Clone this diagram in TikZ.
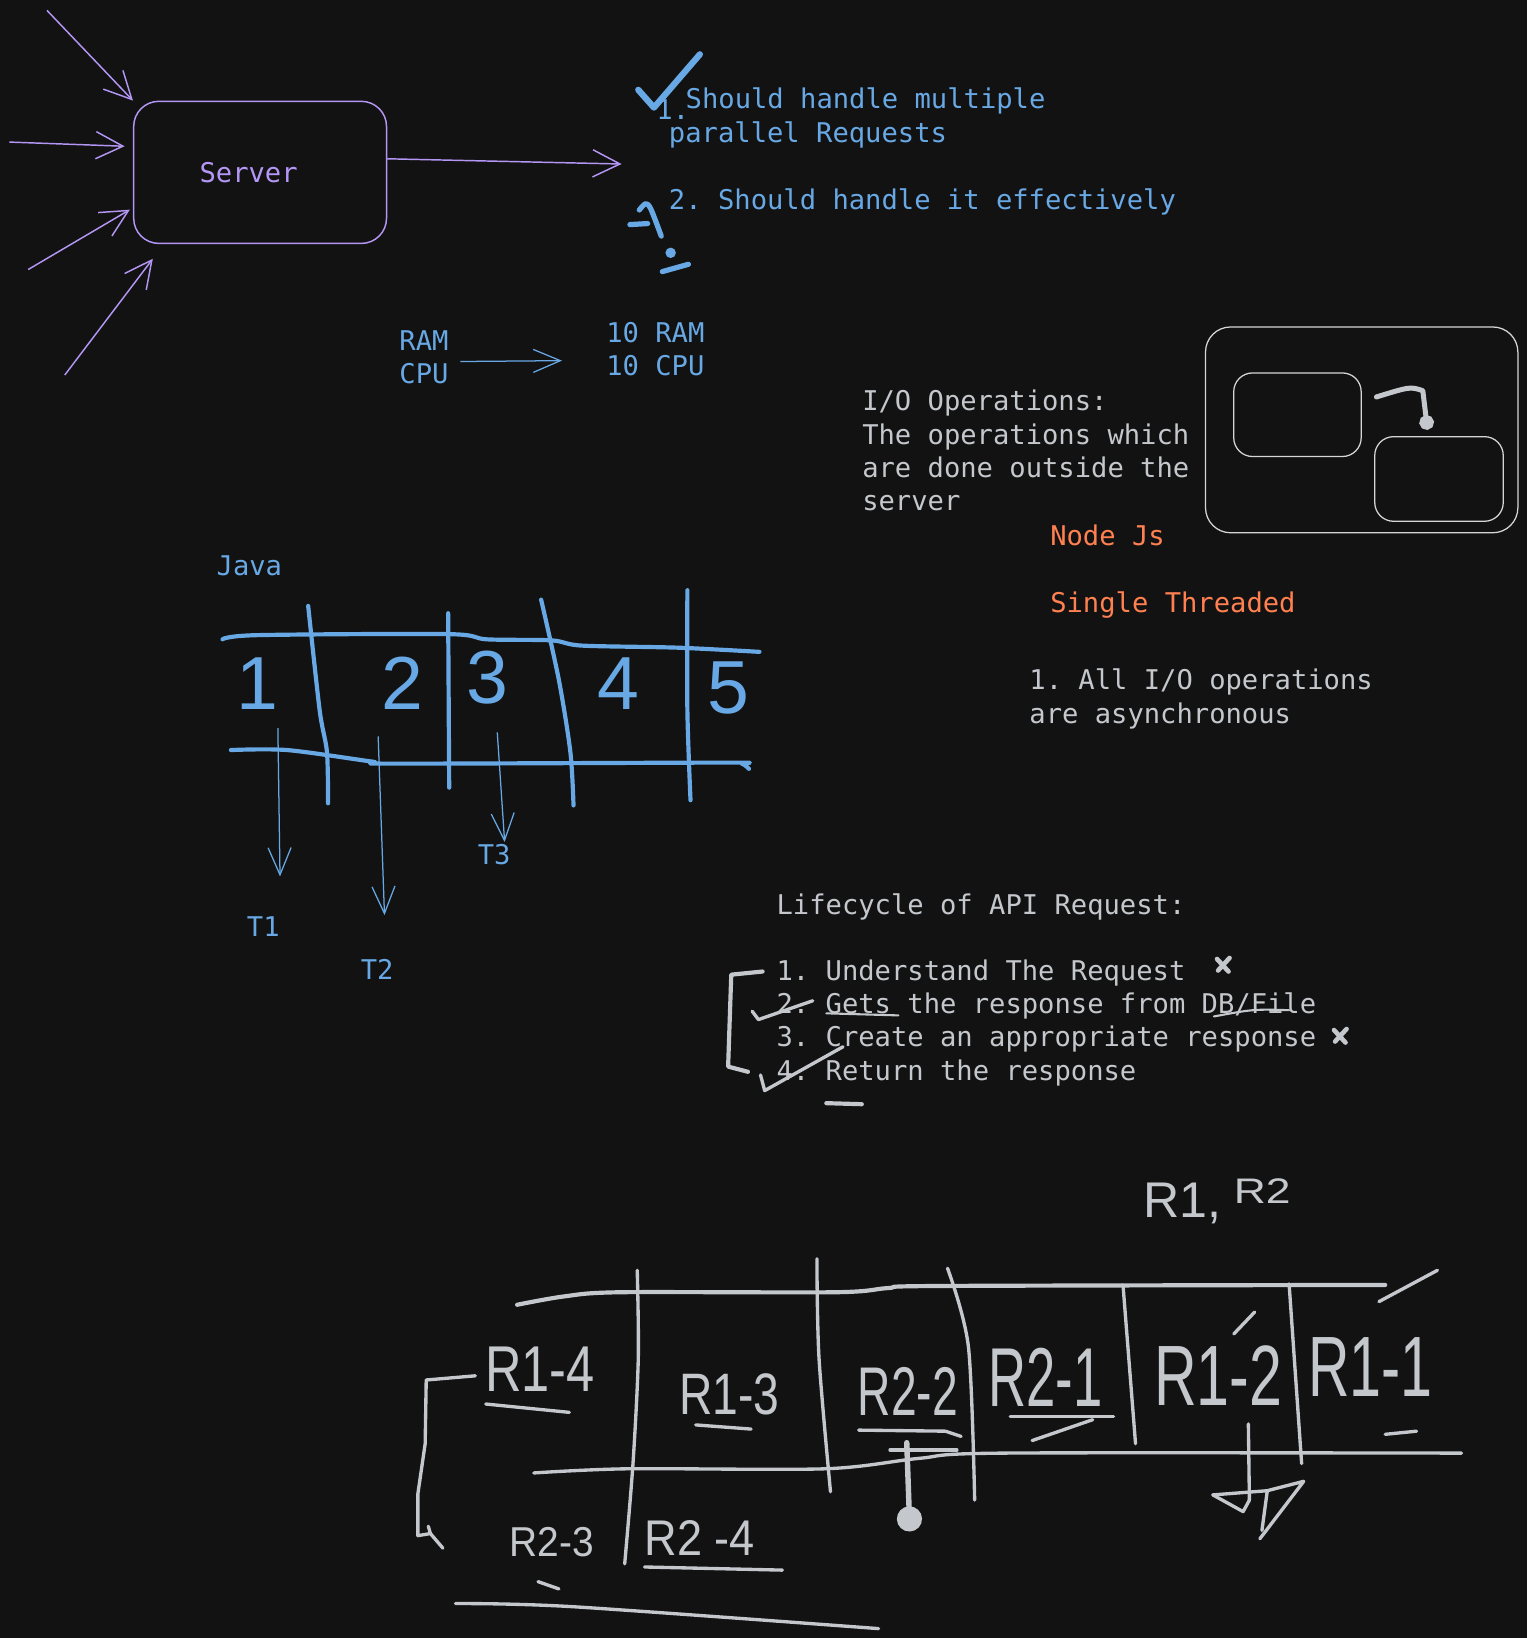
\documentclass[tikz,border=0pt]{standalone}
\usepackage{fontspec}
\setmonofont{DejaVu Sans Mono}
\setsansfont{Liberation Sans}
\usetikzlibrary{arrows.meta}

\definecolor{inkbg}{RGB}{18,18,18}
\definecolor{inkblue}{RGB}{104,168,228}
\definecolor{inkviolet}{RGB}{180,150,245}
\definecolor{inkorange}{RGB}{255,128,80}
\definecolor{inkgray}{RGB}{196,200,204}
\definecolor{inkwhite}{RGB}{214,214,214}

\begin{document}
\begin{tikzpicture}[x=0.5pt, y=-0.5pt,
    txt/.style = {font=\ttfamily\fontsize{13}{16}\selectfont, inner sep=0pt, align=left, anchor=north west},
    srvbox/.style = {draw=inkviolet, line width=0.7pt, rounded corners=12pt, minimum width=121pt, minimum height=68pt, text=inkviolet, font=\ttfamily\fontsize{13}{16}\selectfont},
    iobox/.style = {draw=inkwhite, line width=0.6pt, rounded corners=9pt},
    req/.style = {draw=inkviolet, line width=0.7pt, -{Straight Barb[length=13pt, width=13pt]}},
    thread/.style = {draw=inkblue, line width=0.6pt, -{Straight Barb[length=13pt, width=11pt]}},
    bluepen/.style = {draw=inkblue, line width=2pt, line cap=round, line join=round},
    graypen/.style = {draw=inkgray, line width=1.6pt, line cap=round, line join=round},
    digit/.style = {font=\sffamily\fontsize{36}{36}\selectfont, text=inkblue, inner sep=0pt},
    hand/.style = {text=inkgray, inner sep=0pt}]

    \useasboundingbox (0,0) rectangle (1462,1568);
    \fill[inkbg] (0,0) rectangle (1462,1568);

    % Serveur
    \node[srvbox] (server) at (249,165) {Server\hspace*{11pt}};
    \coordinate (in1) at (45,10);
    \coordinate (in2) at (9,136);
    \coordinate (in3) at (27,258);
    \coordinate (in4) at (62,359);
    \coordinate (out) at (595,157);
    \draw[req] (in1) -- (server.north west);
    \draw[req] (in2) -- ([shift={(-8,-25)}]server.west);
    \draw[req] (in3) -- ([shift={(-3,-33)}]server.south west);
    \draw[req] (in4) -- ([shift={(19,14)}]server.south west);
    \draw[req] ([yshift=6.5pt]server.east) -- (out);

    % Textes
    \node[txt, text=inkblue] (req1) at (640,84) {\makebox[8pt][l]{\kern-6pt\smash{\raisebox{-5pt}{1.}}}Should handle multiple\\parallel Requests};
    \node[txt, text=inkblue] (req2) at (640,180) {2. Should handle it effectively};
    \node[txt, text=inkblue] (ram) at (382,316) {RAM\\CPU};
    \node[txt, text=inkblue] (tenres) at (580,308) {10 RAM\\10 CPU};
    \node[txt, text=inkgray] (io) at (825,373) {I/O Operations:\\The operations which\\are done outside the\\server};
    \node[txt, text=inkorange] (nodejs) at (1005,502) {Node Js};
    \node[txt, text=inkorange] (single) at (1005,566) {Single Threaded};
    \node[txt, text=inkgray] (async) at (985,640) {1. All I/O operations\\are asynchronous};
    \node[txt, text=inkgray] (life) at (743,855) {Lifecycle of API Request:};
    \node[txt, text=inkgray] (steps) at (743,918) {1. Understand The Request\\2. Gets the response from DB/File\\3. Create an appropriate response\\4. Return the response};
    \draw[thread] ([shift={(11,4)}]ram.east) -- ([shift={(-42,11)}]tenres.west);

    % Coches
    \draw[bluepen, line width=3pt] (611,86) -- (626,103) -- (670,52);
    \draw[bluepen, line width=2.5pt] (603,215) -- (620,214);
    \draw[bluepen, line width=2.5pt] plot[smooth] coordinates {(612,201) (618,195) (623,200) (633,226)};
    \fill[inkblue] (642,242) circle (2.5pt);
    \draw[bluepen, line width=2.5pt] (634,260) -- (659,253);

    % I/O
    \node[iobox, minimum width=149.5pt, minimum height=98.5pt, rounded corners=12pt] (ioframe) at (1303.5,411.5) {};
    \node[iobox, minimum width=61pt, minimum height=40pt] (iobox1) at (1242,397) {};
    \node[iobox, minimum width=61.5pt, minimum height=40.5pt] (iobox2) at (1377.5,458.5) {};
    \draw[graypen, line width=2.4pt, -{Circle[length=7pt]}] ([shift={(14,-17)}]iobox1.east) .. controls (1350,370) .. (1362,374) -- ([shift={(-11,-6)}]iobox2.north);

    % Java
    \node[txt, text=inkblue] (java) at (207,532) {Java};
    \draw[bluepen] plot[smooth] coordinates {(213,612) (246,608) (429,607) (466,612) (528,613) (557,618) (649,620) (727,624)};
    \draw[bluepen] plot[smooth] coordinates {(221,718) (275,718) (356,729) (378,731) (693,730) (710,731) (717,736)};
    \draw[bluepen] plot[smooth] coordinates {(295,580) (306,680) (313,720) (314,769)};
    \draw[bluepen] (429,587) -- (430,754);
    \draw[bluepen] plot[smooth] coordinates {(518,574) (535,651) (546,720) (549,771)};
    \draw[bluepen] plot[smooth] coordinates {(658,565) (658,680) (661,766)};
    \node[digit] (d1) at (246,654) {1};
    \node[digit] (d2) at (385,654) {2};
    \node[digit] (d3) at (467,649) {3};
    \node[digit] (d4) at (592,654) {4};
    \node[digit] (d5) at (697,659) {5};
    \node[txt, text=inkblue] (t1) at (236,877) {T1};
    \node[txt, text=inkblue] (t2) at (345,918) {T2};
    \node[txt, text=inkblue] (t3) at (457,808) {T3};
    \coordinate (th1) at (266,697);
    \coordinate (th2) at (362,705);
    \coordinate (th3) at (476,701);
    \draw[thread] (th1) -- ([shift={(16,-38)}]t1.north);
    \draw[thread] (th2) -- ([shift={(7,-42)}]t2.north);
    \draw[thread] (th3) -- ([shift={(10,-2)}]t3.north);

    % Cycle de vie
    \draw[graypen, line width=2pt] (730,930) -- (700,933) -- (697,1021) -- (716,1026);
    \draw[graypen] (720,968) -- (726,976) -- (778,958);
    \draw[graypen, line width=1pt] (791,970) -- (860,972);
    \draw[graypen, line width=1pt] (1162,973) .. controls (1200,966) .. (1234,967);
    \draw[graypen] (728,1029) -- (732,1044) -- (807,1002);
    \draw[graypen, line width=2pt] (791,1056) -- (825,1057);
    \draw[graypen, line width=2.2pt] (1165,918) -- (1176,930) (1177,917) -- (1166,929);
    \draw[graypen, line width=2.2pt] (1277,986) -- (1288,998) (1289,985) -- (1278,997);

    % Requetes
    \node[hand, font=\sffamily\fontsize{24}{24}\selectfont, anchor=base west] (rr) at (1094,1165) {R1,\hspace{6pt}\raisebox{6.5pt}{\fontsize{17}{17}\selectfont\scalebox{1.25}[1]{R2}}};
    \draw[graypen, line width=2pt] plot[smooth] coordinates {(495,1249) (540,1241) (594,1237) (800,1237) (850,1233) (900,1231) (1326,1230)};
    \draw[graypen] (1320,1246) -- (1376,1216);
    \draw[graypen] plot[smooth] coordinates {(511,1410) (601,1406) (790,1406) (880,1396) (960,1391) (1399,1391)};
    \draw[graypen] plot[smooth] coordinates {(610,1216) (611,1300) (606,1400) (598,1497)};
    \draw[graypen] plot[smooth] coordinates {(782,1205) (784,1300) (795,1428)};
    \draw[graypen] plot[smooth] coordinates {(907,1214) (927,1289) (933,1436)};
    \draw[graypen] (1075,1230) -- (1087,1382);
    \draw[graypen] (1234,1229) -- (1246,1401);
    \node[hand, font=\sffamily\fontsize{31}{31}\selectfont] (r14) at (517,1311) {\scalebox{0.78}[1]{R1-4}};
    \node[hand, font=\sffamily\fontsize{28}{28}\selectfont] (r13) at (698,1335) {\scalebox{0.79}[1]{R1-3}};
    \node[hand, font=\sffamily\fontsize{33}{33}\selectfont] (r22) at (869,1332) {\scalebox{0.67}[1]{R2-2}};
    \node[hand, font=\sffamily\fontsize{40}{40}\selectfont] (r21) at (1001,1318) {\scalebox{0.63}[1]{R2-1}};
    \node[hand, font=\sffamily\fontsize{41}{41}\selectfont] (r12) at (1166,1317) {\scalebox{0.69}[1]{R1-2}};
    \node[hand, font=\sffamily\fontsize{41}{41}\selectfont] (r11) at (1312,1309) {\scalebox{0.67}[1]{R1-1}};
    \node[hand, font=\sffamily\fontsize{20}{20}\selectfont] (r23) at (528,1476) {\scalebox{0.93}[1]{R2-3}};
    \node[hand, font=\sffamily\fontsize{24}{24}\selectfont] (r24) at (670,1472) {\scalebox{0.9}[1]{R2 -4}};
    \draw[graypen] (465,1344) -- (545,1352);
    \draw[graypen] (666,1364) -- (719,1368);
    \draw[graypen] (822,1369) -- (905,1370) -- (920,1375);
    \draw[graypen] (852,1388) -- (916,1388);
    \draw[graypen, line width=2.6pt, -{Circle[length=12pt]}] (868,1381) -- (871,1466);
    \draw[graypen] (967,1356) -- (1066,1356);
    \draw[graypen] (988,1379) -- (1046,1359);
    \draw[graypen] (1181,1277) -- (1201,1256);
    \draw[graypen] (1326,1373) -- (1356,1370);
    \draw[graypen] (1195,1363) -- (1196,1436);
    \draw[graypen] (1161,1431) -- (1213,1427) -- (1248,1418) -- (1206,1473);
    \draw[graypen] (1161,1431) -- (1190,1447) -- (1196,1436);
    \draw[graypen] (1213,1428) -- (1208,1465);
    \draw[graypen] (455,1317) -- (408,1321) -- (407,1382) -- (400,1430) -- (400,1470) -- (412,1468) -- (424,1482);
    \draw[graypen] (410,1461) -- (412,1468);
    \draw[graypen] (515,1514) -- (535,1521);
    \draw[graypen] (617,1500) -- (749,1503);
    \draw[graypen] plot[smooth] coordinates {(436,1535) (548,1538) (841,1559)};
\end{tikzpicture}
\end{document}
